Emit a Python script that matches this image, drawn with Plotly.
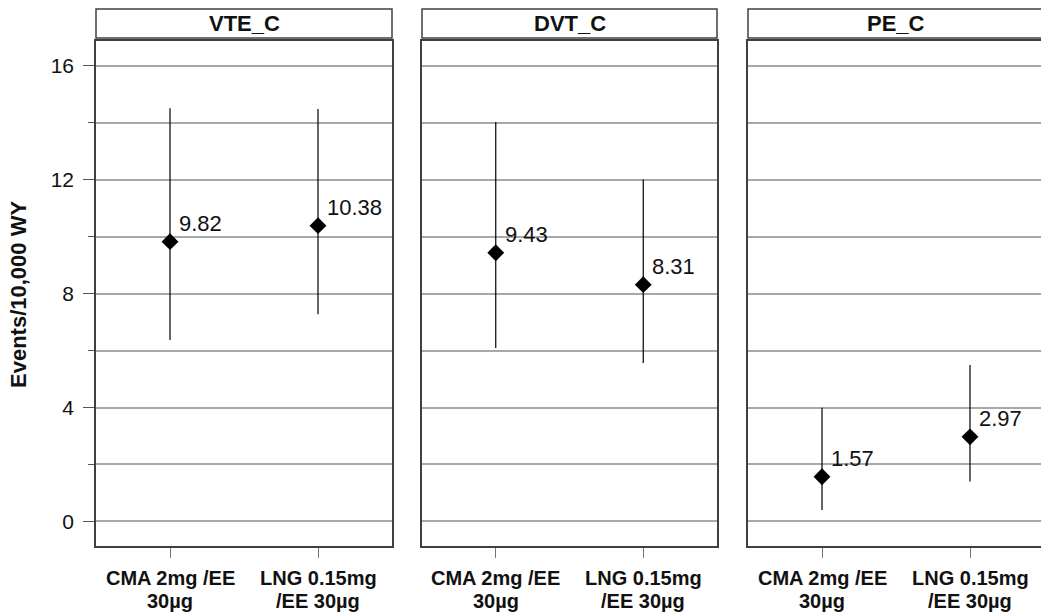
import plotly.graph_objects as go

# ---- data ----
categories = ["CMA 2mg /EE<br>30µg", "LNG 0.15mg<br>/EE 30µg"]
panels = ["VTE_C", "DVT_C", "PE_C"]

vte_est = [9.82, 10.38]
vte_lo = [6.37, 7.27]
vte_hi = [14.50, 14.47]

dvt_est = [9.43, 8.31]
dvt_lo = [6.09, 5.56]
dvt_hi = [14.02, 12.00]

pe_est = [1.57, 2.97]
pe_lo = [0.40, 1.40]
pe_hi = [3.99, 5.49]

y_title = "Events/10,000 WY"
y_ticks = [0, 4, 8, 12, 16]

series = [(vte_est, vte_lo, vte_hi), (dvt_est, dvt_lo, dvt_hi), (pe_est, pe_lo, pe_hi)]

# figure slightly wider than the window so the last panel runs past the right edge
W, H = 1050, 612
FONT = "Liberation Sans, Arial, sans-serif"
px_domains = [(96, 392), (422, 717), (748, 1044)]
plot_top, plot_bottom = 41, 546
head_top, head_bottom = 9, 38


def fx(px):
    return px / W


def fy(py):
    return 1 - py / H


fig = go.Figure()
for i, (est, lo, hi) in enumerate(series):
    ax = "" if i == 0 else str(i + 1)
    fig.add_trace(go.Scatter(
        x=categories, y=est,
        xaxis="x" + ax, yaxis="y" + ax,
        mode="markers",
        marker=dict(symbol="diamond", size=13, color="black"),
        error_y=dict(type="data", symmetric=False,
                     array=[h - e for h, e in zip(hi, est)],
                     arrayminus=[e - l for e, l in zip(est, lo)],
                     color="black", thickness=1.2, width=0),
        showlegend=False, hoverinfo="skip",
    ))
    for c, v in zip(categories, est):
        fig.add_annotation(x=c, y=v, xref="x" + ax, yref="y" + ax,
                           text=f"{v:.2f}", showarrow=False,
                           xanchor="left", yanchor="middle",
                           xshift=7, yshift=18,
                           font=dict(family=FONT, size=22, color="#111"))
    # two-line category labels below the axis
    for c in categories:
        for j, line in enumerate(c.split("<br>")):
            fig.add_annotation(x=c, xref="x" + ax, yref="paper",
                               y=fy(578 + 23 * j),
                               text=f"<b>{line}</b>", showarrow=False,
                               xanchor="center", yanchor="middle",
                               font=dict(family=FONT, size=20, color="#111"))

ydom = [fy(plot_bottom), fy(plot_top)]
layout = dict(
    width=W, height=H, autosize=False,
    margin=dict(l=0, r=0, t=0, b=0),
    plot_bgcolor="white", paper_bgcolor="white",
    font=dict(family=FONT, color="#111"),
)
for i, (x0, x1) in enumerate(px_domains):
    k = "" if i == 0 else str(i + 1)
    layout["xaxis" + k] = dict(
        domain=[fx(x0), min(fx(x1), 1.0)], anchor="y" + k,
        type="category", categoryorder="array", categoryarray=categories,
        range=[-0.5, 1.5],
        showline=True, mirror=True, linecolor="#404040", linewidth=1.5,
        ticks="outside", ticklen=10, tickcolor="#777", tickwidth=1,
        showgrid=False, zeroline=False, showticklabels=False,
    )
    layout["yaxis" + k] = dict(
        domain=ydom, anchor="x" + k,
        range=[-0.86, 16.86],
        tickvals=y_ticks, ticktext=[str(t) for t in y_ticks],
        showticklabels=(i == 0),
        ticks="outside" if i == 0 else "", ticklen=11, tickcolor="#555", tickwidth=1,
        showgrid=True, gridcolor="#a8a8a8", gridwidth=1.5,
        minor=dict(dtick=2, tick0=0, showgrid=True, gridcolor="#a8a8a8", gridwidth=1.5,
                   ticks="outside" if i == 0 else "", ticklen=6, tickcolor="#555"),
        showline=True, mirror=True, linecolor="#404040", linewidth=1.5,
        zeroline=False,
        tickfont=dict(family=FONT, size=21, color="#111"),
        ticklabelstandoff=5,
    )
fig.update_layout(**layout)

for i, name in enumerate(panels):
    k = "x" if i == 0 else "x" + str(i + 1)
    fig.add_shape(type="rect", xref=k + " domain", yref="paper",
                  x0=0, x1=1, y0=fy(head_bottom), y1=fy(head_top),
                  line=dict(color="#404040", width=1.5), fillcolor="white")
    fig.add_annotation(xref=k + " domain", yref="paper", x=0.5,
                       y=fy((head_top + head_bottom) / 2),
                       text=f"<b>{name}</b>", showarrow=False,
                       xanchor="center", yanchor="middle",
                       font=dict(family=FONT, size=22, color="#111"))

fig.add_annotation(xref="paper", yref="paper", x=fx(18), y=fy(295),
                   text=f"<b>{y_title}</b>", showarrow=False, textangle=-90,
                   xanchor="center", yanchor="middle",
                   font=dict(family=FONT, size=22, color="#111"))

fig.write_html(
    "out.html",
    config={"displayModeBar": False},
    post_script="document.body.style.margin='0';document.body.style.overflow='hidden';",
)
